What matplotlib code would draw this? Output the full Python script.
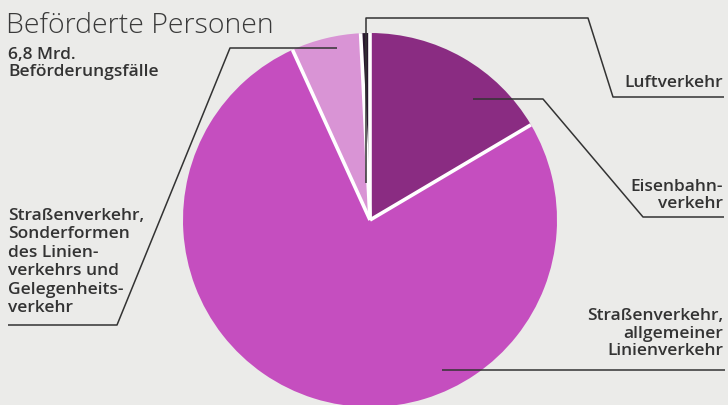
import numpy as np
import matplotlib.pyplot as plt

# Anteile an den Beförderungsfällen (in %)
segments = ['Eisenbahnverkehr', 'Straßenverkehr, allgemeiner Linienverkehr',
            'Straßenverkehr, Sonderformen', 'Luftverkehr']
shares = [16.5, 76.7, 6.0, 0.8]
colors = ['#8a2c82', '#c54ebf', '#d994d5', '#2a1830']

title = 'Beförderte Personen'
subtitle = '6,8 Mrd.\nBeförderungsfälle'
label_luft = 'Luftverkehr'
label_bahn = 'Eisenbahn-\nverkehr'
label_linie = 'Straßenverkehr,\nallgemeiner\nLinienverkehr'
label_sonder = 'Straßenverkehr,\nSonderformen\ndes Linien-\nverkehrs und\nGelegenheits-\nverkehr'

W, H = 728, 405
BG = '#ebebe9'
INK = '#333333'
CX, CY, R = 370, 220, 187


def fy(y):
    # pixel rows from the top -> axis coordinates
    return H - y


def leader(ax, pts):
    ax.plot([p[0] for p in pts], [fy(p[1]) for p in pts], color=INK, lw=1.1,
            solid_capstyle='butt', zorder=3)


fig = plt.figure(figsize=(W / 100, H / 100), dpi=100, facecolor=BG)
ax = fig.add_axes([0, 0, 1, 1])
ax.set_facecolor(BG)

ax.pie(shares, colors=colors, startangle=90, counterclock=False,
       center=(CX, fy(CY)), radius=R, wedgeprops=dict(linewidth=0))

# white separators between the wedges (no outer rim)
bounds = 90 - 360 * np.cumsum([0] + shares[:-1]) / sum(shares)
for a in np.radians(bounds):
    ax.plot([CX, CX + R * np.cos(a)], [fy(CY), fy(CY) + R * np.sin(a)],
            color='white', lw=2.6, solid_capstyle='butt', zorder=2)

ax.set_xlim(0, W)
ax.set_ylim(0, H)
ax.set_aspect('equal')
ax.axis('off')

font = 'Open Sans'
fs = 12.5
ax.text(6, fy(33), title, fontsize=20.5, family=font, color='#3a3a3a',
        fontweight='light', va='baseline', ha='left')
ax.text(8, fy(76), subtitle, fontsize=fs, family=font, color=INK,
        fontweight='semibold', va='baseline', ha='left', linespacing=1.1)

# Luftverkehr
leader(ax, [(366, 183), (366, 18), (588, 18), (613, 97), (724, 97)])
ax.text(723, fy(87), label_luft, fontsize=fs, family=font, color=INK,
        fontweight='semibold', ha='right', va='baseline')

# Eisenbahnverkehr
leader(ax, [(473, 99), (543, 99), (643, 217), (724, 217)])
ax.text(723, fy(208), label_bahn, fontsize=fs, family=font, color=INK,
        fontweight='semibold', ha='right', va='baseline', linespacing=1.1)

# Straßenverkehr, allgemeiner Linienverkehr
leader(ax, [(442, 370), (725, 370)])
ax.text(723, fy(355), label_linie, fontsize=fs, family=font, color=INK,
        fontweight='semibold', ha='right', va='baseline', linespacing=1.12)

# Straßenverkehr, Sonderformen
leader(ax, [(337, 48), (230, 48), (117, 325), (8, 325)])
ax.text(8, fy(312), label_sonder, fontsize=fs, family=font, color=INK,
        fontweight='semibold', ha='left', va='baseline', linespacing=1.2)

fig.savefig('out.png', dpi=100, facecolor=BG)
